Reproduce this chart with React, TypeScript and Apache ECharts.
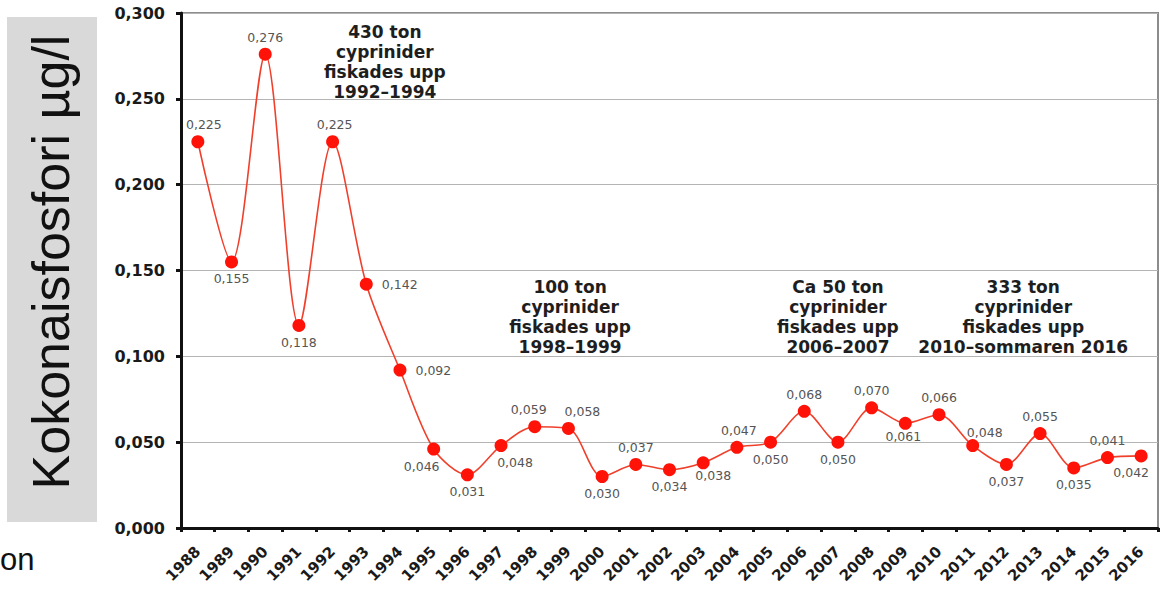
import React, { useEffect, useRef } from "react";
import * as echarts from "echarts";

// Total phosphorus, yearly values (µg/l)
const years = [
  "1988", "1989", "1990", "1991", "1992", "1993", "1994", "1995", "1996", "1997",
  "1998", "1999", "2000", "2001", "2002", "2003", "2004", "2005", "2006", "2007",
  "2008", "2009", "2010", "2011", "2012", "2013", "2014", "2015", "2016",
];
const phosphorus = [
  0.225, 0.155, 0.276, 0.118, 0.225, 0.142, 0.092, 0.046, 0.031, 0.048,
  0.059, 0.058, 0.030, 0.037, 0.034, 0.038, 0.047, 0.050, 0.068, 0.050,
  0.070, 0.061, 0.066, 0.048, 0.037, 0.055, 0.035, 0.041, 0.042,
];

// Fishing campaign notes: text lines, category position they sit over, value of their top
const notes = [
  { lines: ["430 ton", "cyprinider", "fiskades upp", "1992–1994"], at: 5.55, top: 0.2945 },
  { lines: ["100 ton", "cyprinider", "fiskades upp", "1998–1999"], at: 11.05, top: 0.1465 },
  { lines: ["Ca 50 ton", "cyprinider", "fiskades upp", "2006–2007"], at: 19.0, top: 0.1465 },
  { lines: ["333 ton", "cyprinider", "fiskades upp", "2010–sommaren 2016"], at: 24.5, top: 0.1465 },
];

// Where each value label sits relative to its marker
const labelPlace: [string, number, number][] = [
  ["top", 6, 0], ["bottom", 0, 0], ["top", 0, 0], ["bottom", 0, 0], ["top", 2, 0],
  ["right", 0, 0], ["right", 0, 0], ["bottom", -12, 0], ["bottom", 0, 0], ["bottom", 14, 0],
  ["top", -6, 0], ["top", 14, 0], ["bottom", 0, 0], ["top", 0, 0], ["bottom", 0, 0],
  ["bottom", 10, -4], ["top", 2, 0], ["bottom", 0, 0], ["top", 0, 0], ["bottom", 0, 0],
  ["top", 0, 0], ["bottom", -2, -4], ["top", 0, 0], ["top", 12, 4], ["bottom", 0, 0],
  ["top", 0, 0], ["bottom", 0, 0], ["top", 0, 0], ["bottom", -10, 0],
];

const fmt = (v: number) => v.toFixed(3).replace(".", ",");

export default function App() {
  const ref = useRef<HTMLDivElement>(null);

  useEffect(() => {
    if (!ref.current) return;
    const chart = echarts.init(ref.current, null, { renderer: "svg" });

    const data = phosphorus.map((v, i) => {
      const [pos, dx, dy] = labelPlace[i];
      return {
        value: v,
        label: { position: pos, offset: [dx, dy], distance: pos === "right" ? 9 : 4 },
      };
    });

    const boxAndTitle = [
      {
        type: "rect",
        shape: { x: 7, y: 17, width: 90, height: 505 },
        style: { fill: "#d9d9d9" },
        silent: true,
      },
      {
        type: "text",
        x: 51,
        y: 262,
        rotation: Math.PI / 2,
        style: {
          text: "Kokonaisfosfori µg/l",
          fill: "#111",
          font: "52px 'Liberation Sans', Arial, sans-serif",
          textAlign: "center",
          textVerticalAlign: "middle",
        },
        silent: true,
      },
      {
        type: "text",
        x: 0,
        y: 559,
        style: {
          text: "on",
          fill: "#111",
          font: "31px 'Liberation Sans', Arial, sans-serif",
          textAlign: "left",
          textVerticalAlign: "middle",
        },
        silent: true,
      },
    ];

    chart.setOption({
      animation: false,
      backgroundColor: "#ffffff",
      grid: {
        left: 181,
        right: 3,
        top: 13,
        bottom: 66,
        show: true,
        borderColor: "#8c8c8c",
        borderWidth: 2,
        backgroundColor: "transparent",
      },
      xAxis: {
        type: "category",
        data: years,
        boundaryGap: true,
        axisLine: { show: true, lineStyle: { color: "#111", width: 3 } },
        axisTick: { show: true, length: 4, lineStyle: { color: "#111", width: 3 } },
        axisLabel: {
          rotate: 45,
          margin: 21,
          interval: 0,
          color: "#1a1a1a",
          fontFamily: "DejaVu Sans",
          fontWeight: "bold",
          fontSize: 15,
        },
        splitLine: { show: false },
      },
      yAxis: {
        type: "value",
        min: 0,
        max: 0.3,
        interval: 0.05,
        axisLine: { show: true, lineStyle: { color: "#111", width: 3 } },
        axisTick: { show: true, length: 5, lineStyle: { color: "#111", width: 3 } },
        axisLabel: {
          margin: 16,
          color: "#1a1a1a",
          fontFamily: "DejaVu Sans",
          fontWeight: "bold",
          fontSize: 16,
          formatter: (v: number) => fmt(v),
        },
        splitLine: { show: true, lineStyle: { color: "#b4b4b4", width: 1 } },
      },
      series: [
        {
          type: "line",
          data,
          smooth: 0.3,
          symbol: "circle",
          symbolSize: 13,
          lineStyle: { color: "#f0402c", width: 1.6 },
          itemStyle: { color: "#ff1208" },
          label: {
            show: true,
            color: "#555",
            fontFamily: "DejaVu Sans",
            fontSize: 12.5,
            formatter: (p: any) => fmt(p.value),
          },
          z: 3,
        },
      ],
      graphic: boxAndTitle,
    });

    // Notes sit between categories, so place them through the axis scale
    const toPixel = (at: number, value: number) => {
      const lo = Math.floor(at);
      const hi = Math.min(lo + 1, years.length - 1);
      const a = chart.convertToPixel({ gridIndex: 0 }, [lo, value]) as number[];
      const b = chart.convertToPixel({ gridIndex: 0 }, [hi, value]) as number[];
      return [a[0] + (at - lo) * (b[0] - a[0]), a[1]];
    };

    const noteTexts = notes.map((n) => {
      const [x, y] = toPixel(n.at, n.top);
      return {
        type: "text",
        x,
        y,
        z: 10,
        silent: true,
        style: {
          text: n.lines.join("\n"),
          fill: "#1e1e1e",
          font: "bold 17px 'DejaVu Sans', sans-serif",
          lineHeight: 20,
          textAlign: "center",
          textVerticalAlign: "top",
        },
      };
    });

    chart.setOption({ graphic: [...boxAndTitle, ...noteTexts] });

    return () => chart.dispose();
  }, []);

  return (
    <div
      ref={ref}
      style={{ position: "fixed", left: 0, top: 0, width: 1161, height: 594 }}
    />
  );
}
